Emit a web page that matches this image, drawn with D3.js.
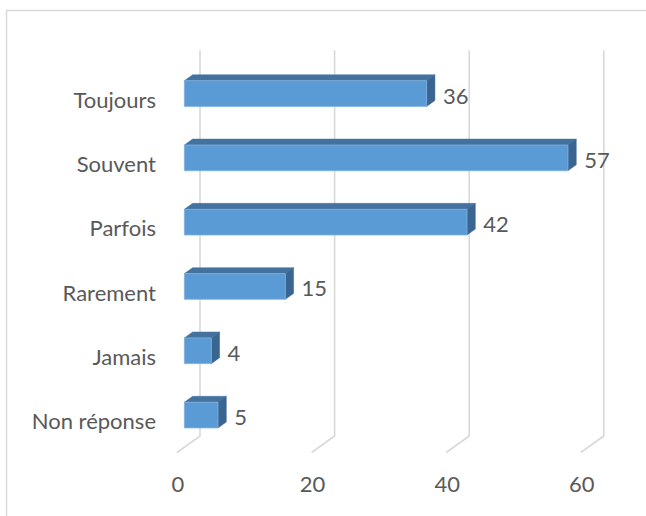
<!DOCTYPE html>
<html>
<head>
<meta charset="utf-8">
<script src="https://cdn.jsdelivr.net/npm/d3@7"></script>
<style>
  html, body { margin: 0; padding: 0; background: #fff; }
  svg { display: block; }
  text { font-family: Lato, "Open Sans", sans-serif; fill: #595959; }
</style>
</head>
<body>
<svg id="chart" width="646" height="516"></svg>
<script>
const categories = ["Toujours", "Souvent", "Parfois", "Rarement", "Jamais", "Non réponse"];
const values = [36, 57, 42, 15, 4, 5];
const tickValues = [0, 20, 40, 60];

const svg = d3.select("#chart");
const W = 646, H = 516;

// frame
svg.append("rect")
  .attr("x", 6.5).attr("y", 10.5).attr("width", 720).attr("height", 600)
  .attr("fill", "none").attr("stroke", "#d9d9d9").attr("stroke-width", 1.5);

// 3D geometry
const depthDX = 23, depthDY = -16.5;
const d0 = 0.32, d1 = 0.68;

const x = d3.scaleLinear().domain([0, 60]).range([177, 580.8]);
const y = d3.scaleBand().domain(categories).range([66.7, 452.5]).padding(0);
const barH = y.bandwidth() * 0.4;

const proj = (px, py, d) => [px + d * depthDX, py + d * depthDY];

// gridlines on back wall + floor
const gy0 = y.range()[0], gy1 = y.range()[1];
const grid = svg.append("g");
tickValues.forEach(t => {
  const top = proj(x(t), gy0, 1);
  const bot = proj(x(t), gy1, 1);
  const front = proj(x(t), gy1, 0);
  grid.append("path")
    .attr("d", d3.line()([top, bot, front]))
    .attr("fill", "none")
    .attr("stroke", "#d9d9d9")
    .attr("stroke-width", 1.6);
});

// tick labels
svg.append("g").selectAll("text")
  .data(tickValues).join("text")
  .attr("x", d => x(d) + 1)
  .attr("y", 483)
  .attr("text-anchor", "middle")
  .attr("dominant-baseline", "central")
  .attr("font-size", 22)
  .text(d => d);

// category labels
svg.append("g").selectAll("text")
  .data(categories).join("text")
  .attr("x", 156)
  .attr("y", d => y(d) + y.bandwidth() / 2 + 0.5)
  .attr("text-anchor", "end")
  .attr("dominant-baseline", "central")
  .attr("font-size", 22)
  .text(d => d);

// bars
const bars = svg.append("g");
categories.forEach((c, i) => {
  const v = values[i];
  const cy = y(c) + y.bandwidth() / 2;
  const yt = cy - barH / 2, yb = cy + barH / 2;
  const xl = x(0), xr = x(v);
  const fTL = proj(xl, yt, d0), fTR = proj(xr, yt, d0), fBR = proj(xr, yb, d0), fBL = proj(xl, yb, d0);
  const bTL = proj(xl, yt, d1), bTR = proj(xr, yt, d1), bBR = proj(xr, yb, d1);
  // top face
  bars.append("polygon")
    .attr("points", [fTL, bTL, bTR, fTR].map(p => p.join(",")).join(" "))
    .attr("fill", "#44729e").attr("stroke", "#44729e").attr("stroke-width", 0.5);
  // side face
  bars.append("polygon")
    .attr("points", [fTR, bTR, bBR, fBR].map(p => p.join(",")).join(" "))
    .attr("fill", "#3a6591").attr("stroke", "#3a6591").attr("stroke-width", 0.5);
  // front face
  bars.append("polygon")
    .attr("points", [fTL, fTR, fBR, fBL].map(p => p.join(",")).join(" "))
    .attr("fill", "#5b9bd5").attr("stroke", "#7fb1df").attr("stroke-width", 0.8);
  // value label
  bars.append("text")
    .attr("x", xr + d1 * depthDX + 8)
    .attr("y", cy + d0 * depthDY + 1.5)
    .attr("dominant-baseline", "central")
    .attr("font-size", 22)
    .text(v);
});
</script>
</body>
</html>
